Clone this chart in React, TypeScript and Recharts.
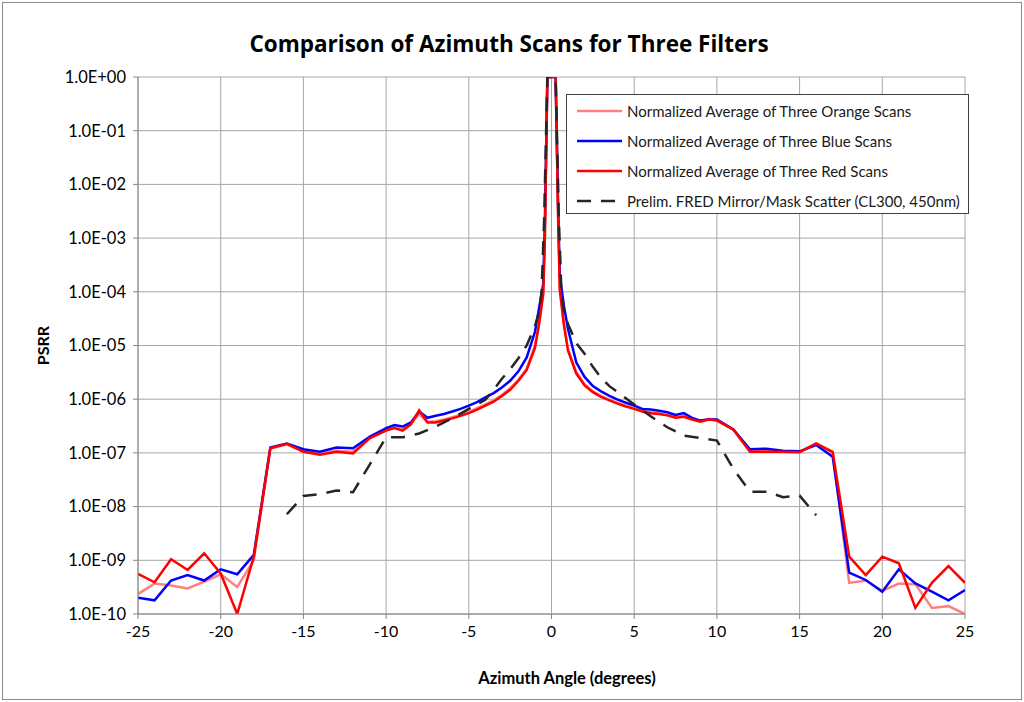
import React from "react";
import {
  LineChart,
  Line,
  XAxis,
  YAxis,
  CartesianGrid,
  Legend,
} from "recharts";

// azimuth sample positions shared by the three measured scans (degrees)
const scanX = [
  -25, -24, -23, -22, -21, -20, -19, -18, -17, -16, -15, -14, -13, -12, -11,
  -10, -9.5, -9, -8.5, -8, -7.5, -7, -6.5, -6, -5.5, -5, -4.5, -4, -3.5, -3,
  -2.5, -2, -1.5, -1,
  -0.75, -0.5, -0.4, -0.25, 0, 0.25, 0.4, 0.5, 0.75,
  1, 1.5, 2, 2.5, 3, 3.5, 4, 4.5, 5, 5.5, 6, 6.5, 7, 7.5, 8, 8.5, 9, 9.5, 10,
  11, 12, 13, 14, 15, 16, 17, 18, 19, 20, 21, 22, 23, 24, 25,
];

const orangeScan = [
  2.35e-10, 3.7e-10, 3.4e-10, 3.0e-10, 4.0e-10, 5.5e-10, 3.2e-10, 1.0e-9, 1.2e-7, 1.45e-7, 1.1e-7, 9.8e-8, 1.1e-7, 1.05e-7, 1.9e-7,
  2.7e-7, 3.0e-7, 2.8e-7, 3.6e-7, 5.2e-7, 3.8e-7, 3.9e-7, 4.2e-7, 4.6e-7, 5.1e-7, 5.8e-7, 6.8e-7, 8.0e-7, 9.5e-7, 1.2e-6,
  1.6e-6, 2.3e-6, 3.7e-6, 1.0e-5,
  2.7e-5, 1.0e-4, 1.2e-3, 1, 1, 1, 3e-3, 1.2e-4, 2.6e-5,
  8.5e-6, 3.2e-6, 1.9e-6, 1.4e-6, 1.15e-6, 9.8e-7, 8.5e-7, 7.5e-7, 6.8e-7, 6.1e-7, 5.7e-7, 5.4e-7, 5.1e-7, 4.6e-7, 4.9e-7, 4.3e-7, 3.9e-7, 4.3e-7, 4.1e-7,
  2.8e-7, 1.08e-7, 1.08e-7, 1.05e-7, 1.05e-7, 1.45e-7, 1.0e-7, 3.8e-10, 4.2e-10, 2.7e-10, 3.7e-10, 3.6e-10, 1.3e-10, 1.4e-10, 1.0e-10,
];

const blueScan = [
  2.0e-10, 1.8e-10, 4.2e-10, 5.3e-10, 4.2e-10, 6.8e-10, 5.5e-10, 1.26e-9, 1.26e-7, 1.5e-7, 1.17e-7, 1.05e-7, 1.26e-7, 1.22e-7, 2.0e-7,
  2.9e-7, 3.3e-7, 3.1e-7, 3.7e-7, 5.9e-7, 4.5e-7, 4.9e-7, 5.3e-7, 5.9e-7, 6.6e-7, 7.6e-7, 8.8e-7, 1.08e-6, 1.3e-6, 1.65e-6,
  2.2e-6, 3.3e-6, 6.0e-6, 1.8e-5,
  5.0e-5, 1.4e-4, 2e-3, 1, 1, 1, 4e-3, 2.0e-4, 5.5e-5,
  2.0e-5, 4.8e-6, 2.6e-6, 1.75e-6, 1.4e-6, 1.15e-6, 9.8e-7, 8.6e-7, 7.6e-7, 6.6e-7, 6.4e-7, 6.1e-7, 5.7e-7, 5.1e-7, 5.5e-7, 4.5e-7, 4.0e-7, 4.2e-7, 4.2e-7,
  2.7e-7, 1.17e-7, 1.2e-7, 1.1e-7, 1.07e-7, 1.4e-7, 8.5e-8, 5.9e-10, 4.3e-10, 2.6e-10, 6.8e-10, 3.7e-10, 2.6e-10, 1.8e-10, 2.8e-10,
];

const redScan = [
  5.6e-10, 3.9e-10, 1.05e-9, 6.6e-10, 1.35e-9, 5.7e-10, 1.0e-10, 1.17e-9, 1.22e-7, 1.47e-7, 1.05e-7, 9.2e-8, 1.05e-7, 9.8e-8, 1.87e-7,
  2.6e-7, 2.9e-7, 2.6e-7, 3.4e-7, 6.2e-7, 3.7e-7, 3.7e-7, 4.0e-7, 4.4e-7, 4.9e-7, 5.5e-7, 6.4e-7, 7.6e-7, 9.0e-7, 1.15e-6,
  1.5e-6, 2.2e-6, 3.5e-6, 9.0e-6,
  2.5e-5, 9e-5, 1e-3, 1, 1, 1, 2.5e-3, 1.1e-4, 2.4e-5,
  8.0e-6, 3.0e-6, 1.8e-6, 1.35e-6, 1.1e-6, 9.5e-7, 8.3e-7, 7.3e-7, 6.6e-7, 5.9e-7, 5.5e-7, 5.3e-7, 5.0e-7, 4.5e-7, 4.7e-7, 4.2e-7, 3.8e-7, 4.2e-7, 4.0e-7,
  2.7e-7, 1.05e-7, 1.05e-7, 1.05e-7, 1.03e-7, 1.5e-7, 1.05e-7, 1.17e-9, 5.3e-10, 1.17e-9, 8.8e-10, 1.3e-10, 3.8e-10, 7.8e-10, 3.8e-10,
];

// FRED model runs only from -16 to 16 degrees
const fredX = [
  -16, -15, -14, -13, -12, -11, -10, -9, -8, -7, -6, -5, -4, -3.5, -3, -2.5, -2, -1.5, -1,
  -0.75, -0.6, -0.45, -0.25, 0, 0.25, 0.45, 0.6, 0.75,
  1, 1.5, 2, 2.5, 3, 3.5, 4, 5, 6, 7, 8, 9, 10, 11, 12, 13, 14, 15, 16,
];

const fredModel = [
  7.2e-9, 1.58e-8, 1.7e-8, 2.0e-8, 1.85e-8, 6e-8, 1.95e-7, 1.95e-7, 2.3e-7, 3.1e-7, 4.4e-7, 6.6e-7, 9.8e-7, 1.5e-6, 2.4e-6, 3.6e-6, 5.8e-6, 1.0e-5, 2.3e-5,
  4.2e-5, 1.0e-4, 2e-3, 1, 1, 1, 2e-3, 1.0e-4, 4.5e-5,
  2.5e-5, 1.1e-5, 7e-6, 4e-6, 2.5e-6, 1.75e-6, 1.35e-6, 8e-7, 4.8e-7, 3.0e-7, 2.1e-7, 1.9e-7, 1.7e-7, 5e-8, 1.9e-8, 1.9e-8, 1.5e-8, 1.6e-8, 6.9e-9,
];

const xTicks = [-25, -20, -15, -10, -5, 0, 5, 10, 15, 20, 25];
const yTicks = [1, 1e-1, 1e-2, 1e-3, 1e-4, 1e-5, 1e-6, 1e-7, 1e-8, 1e-9, 1e-10];

const seriesNames = [
  "Normalized Average of Three Orange Scans",
  "Normalized Average of Three Blue Scans",
  "Normalized Average of Three Red Scans",
  "Prelim. FRED Mirror/Mask Scatter (CL300, 450nm)",
];

const scanRows = scanX.map((x, i) => ({
  x,
  orange: orangeScan[i],
  blue: blueScan[i],
  red: redScan[i],
}));
const fredRows = fredX.map((x, i) => ({ x, fred: fredModel[i] }));

const FONT = "Lato, 'Open Sans', sans-serif";
const TITLE_FONT = "'Open Sans', Lato, sans-serif";
const GRID = "#a6a6a6";
const DASH = "14 10";

const fmtE = (v: number) => {
  const e = Math.round(Math.log10(v));
  return `1.0E${e < 0 ? "-" : "+"}${String(Math.abs(e)).padStart(2, "0")}`;
};

const legendItems = [
  { name: seriesNames[0], color: "#ff8080", dash: undefined },
  { name: seriesNames[1], color: "#0000ff", dash: undefined },
  { name: seriesNames[2], color: "#ff0000", dash: undefined },
  { name: seriesNames[3], color: "#262626", dash: DASH },
];

function LegendBox() {
  return (
    <div
      style={{
        width: 403,
        height: 120,
        boxSizing: "border-box",
        border: "1px solid #404040",
        background: "#fff",
        paddingTop: 1,
        fontFamily: FONT,
        fontSize: 15,
        color: "#1a1a1a",
      }}
    >
      {legendItems.map((it) => (
        <div
          key={it.name}
          style={{ display: "flex", alignItems: "center", height: 30, whiteSpace: "nowrap" }}
        >
          <svg width={50} height={8} style={{ marginLeft: 10, flex: "none" }}>
            <line
              x1={0}
              y1={4}
              x2={45}
              y2={4}
              stroke={it.color}
              strokeWidth={2.5}
              strokeDasharray={it.dash}
            />
          </svg>
          <span>{it.name}</span>
        </div>
      ))}
    </div>
  );
}

export default function App() {
  return (
    <div
      style={{
        position: "absolute",
        left: 0,
        top: 0,
        width: 1024,
        height: 702,
        background: "#fff",
      }}
    >
      <div
        style={{
          position: "absolute",
          left: 2,
          top: 2,
          width: 1018,
          height: 696,
          border: "1px solid #8c8c8c",
        }}
      />
      <div
        style={{
          position: "absolute",
          left: 0,
          top: 28,
          width: 1018,
          textAlign: "center",
          fontFamily: TITLE_FONT,
          fontWeight: 700,
          fontSize: 22.5,
          color: "#000",
        }}
      >
        Comparison of Azimuth Scans for Three Filters
      </div>
      <LineChart
        width={1024}
        height={702}
        margin={{ top: 77, right: 59, bottom: 28, left: 28 }}
      >
        <CartesianGrid stroke={GRID} strokeWidth={1} />
        <XAxis
          dataKey="x"
          type="number"
          domain={[-25, 25]}
          ticks={xTicks}
          allowDataOverflow
          height={60}
          stroke="#868686"
          tickSize={5}
          tickMargin={7}
          tick={{ fill: "#000", fontSize: 16, fontFamily: FONT }}
          label={{
            content: ({ viewBox }: any) => (
              <text
                x={567}
                y={viewBox.y + 70}
                textAnchor="middle"
                fontFamily={FONT}
                fontWeight={700}
                fontSize={16.5}
                fill="#000"
              >
                Azimuth Angle (degrees)
              </text>
            ),
          }}
        />
        <YAxis
          type="number"
          scale="log"
          domain={[1e-10, 1]}
          ticks={yTicks}
          allowDataOverflow
          width={110}
          stroke="#868686"
          tickSize={5}
          tickMargin={7}
          tickFormatter={fmtE}
          tick={{ fill: "#000", fontSize: 16.5, fontFamily: FONT }}
          label={{
            content: ({ viewBox }: any) => {
              const cx = viewBox.x + 14;
              const cy = viewBox.y + viewBox.height / 2;
              return (
                <text
                  x={cx}
                  y={cy}
                  transform={`rotate(-90 ${cx} ${cy})`}
                  textAnchor="middle"
                  dominantBaseline="central"
                  fontFamily={FONT}
                  fontWeight={700}
                  fontSize={16}
                  fill="#000"
                >
                  PSRR
                </text>
              );
            },
          }}
        />
        <Line
          data={scanRows}
          dataKey="orange"
          name={seriesNames[0]}
          stroke="#ff8080"
          strokeWidth={2.5}
          dot={false}
          activeDot={false}
          isAnimationActive={false}
        />
        <Line
          data={scanRows}
          dataKey="blue"
          name={seriesNames[1]}
          stroke="#0000ff"
          strokeWidth={2.5}
          dot={false}
          activeDot={false}
          isAnimationActive={false}
        />
        <Line
          data={scanRows}
          dataKey="red"
          name={seriesNames[2]}
          stroke="#ff0000"
          strokeWidth={2.5}
          dot={false}
          activeDot={false}
          isAnimationActive={false}
        />
        <Line
          data={fredRows}
          dataKey="fred"
          name={seriesNames[3]}
          stroke="#262626"
          strokeWidth={2.5}
          strokeDasharray={DASH}
          dot={false}
          activeDot={false}
          isAnimationActive={false}
        />
        <Legend
          layout="vertical"
          align="center"
          verticalAlign="middle"
          content={() => <LegendBox />}
          wrapperStyle={{ position: "absolute", left: 566, top: 94, width: 403, height: 120 }}
        />
      </LineChart>
    </div>
  );
}
